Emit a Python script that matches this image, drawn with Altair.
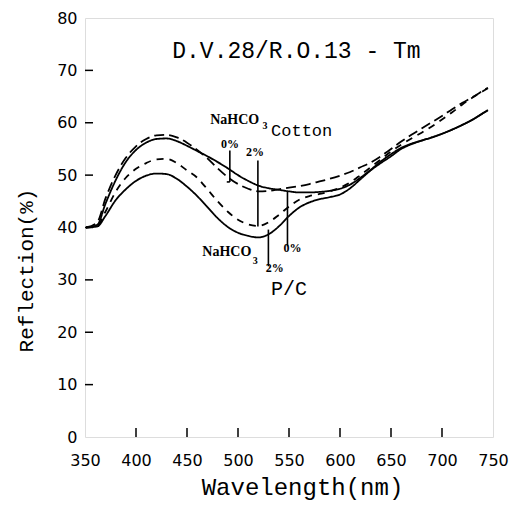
import altair as alt
import pandas as pd

# ---- data ----
wavelength = [351, 362, 370, 380, 390, 400, 410, 420, 430, 440, 450, 460, 470, 480, 490,
              500, 510, 520, 530, 540, 550, 560, 570, 580, 590, 600, 610, 620, 630, 640,
              650, 660, 670, 680, 690, 700, 710, 720, 730, 740, 745]

pc_0 = [40, 40.5, 44.5, 49, 52.5, 54.8, 56.2, 56.9, 57.0, 56.5, 55.6, 54.6, 53.6, 52.5, 51.3,
        50.0, 48.9, 48.0, 47.5, 47.2, 46.9, 46.7, 46.7, 46.8, 47.0, 47.4, 48.2, 49.5, 51.0, 52.6,
        54.0, 55.2, 56.0, 56.6, 57.2, 57.9, 58.7, 59.6, 60.6, 61.8, 62.4]
cotton_0 = [40, 41, 45.5, 50, 53.3, 55.5, 56.9, 57.6, 57.7, 57.2, 56.2, 54.8, 53.2, 51.3, 49.6,
            48.3, 47.4, 46.9, 47.0, 47.3, 47.6, 47.9, 48.3, 48.8, 49.3, 49.9, 50.6, 51.5, 52.4, 53.6,
            55.0, 56.4, 57.7, 58.9, 60.1, 61.3, 62.6, 63.8, 64.9, 66.1, 66.7]
cotton_2 = [40, 40.3, 43, 46.8, 49.5, 51.2, 52.3, 53.0, 53.1, 52.3, 50.9, 49.5, 47.3, 45.0, 43.0,
            41.5, 40.6, 40.3, 41.0, 42.4, 44.0, 45.3, 46.0, 46.4, 46.9, 47.6, 48.6, 50.0, 51.5, 53.0,
            54.5, 55.8, 57.0, 58.1, 59.3, 60.6, 62.0, 63.5, 64.8, 66.0, 66.6]
pc_2 = [40, 40.2, 42.2, 45.2, 47.3, 48.9, 49.9, 50.3, 50.2, 49.3, 47.8, 46.0, 43.9, 41.8, 40.1,
        39.0, 38.4, 38.1, 38.7, 40.2, 42.2, 43.8, 44.8, 45.4, 45.8, 46.3, 47.5, 49.2, 50.9, 52.3,
        53.6, 55.0, 55.9, 56.6, 57.2, 57.9, 58.7, 59.6, 60.6, 61.8, 62.4]

series_names = ["P/C 0%", "Cotton 0%", "Cotton 2%", "P/C 2%"]
series_values = [pc_0, cotton_0, cotton_2, pc_2]
series_dash = [[1, 0], [10, 5], [7, 6], [1, 0]]

x_labels = [350, 400, 450, 500, 550, 600, 650, 700, 750]
y_labels = [0, 10, 20, 30, 40, 50, 60, 70, 80]
x_ticks = [400, 450, 500, 550, 600, 650, 700]
y_ticks = [10, 20, 30, 40, 50, 60, 70]

# pointer lines of the annotations
marker_wl = [492, 519.5, 529.8, 548.5]
marker_top = [54.7, 52.8, 39.6, 46.8]
marker_bottom = [48.7, 40.2, 32.6, 36.4]

rows = []
for name, vals in zip(series_names, series_values):
    for w, v in zip(wavelength, vals):
        rows.append({"wl": w, "refl": v, "series": name})
df = pd.DataFrame(rows)

W, H = 408, 419
xs = alt.Scale(domain=[350, 750], nice=False, zero=False)
ys = alt.Scale(domain=[0, 80], nice=False, zero=False)

mono = "Liberation Mono"
sans = "DejaVu Sans"
serif = "Liberation Serif"

lines = alt.Chart(df).mark_line(color="black", strokeWidth=1.8, interpolate="monotone").encode(
    x=alt.X("wl:Q", scale=xs, axis=alt.Axis(
        values=x_labels, title="Wavelength(nm)", domain=False, ticks=False, grid=False,
        labelFont=sans, labelFontSize=16, labelPadding=15, labelColor="black", labelFlush=False,
        titleFont=mono, titleFontSize=24, titleFontWeight="normal", titlePadding=7, titleColor="black",
        titleX=217)),
    y=alt.Y("refl:Q", scale=ys, axis=alt.Axis(
        values=y_labels, title="Reflection(%)", domain=False, ticks=False, grid=False,
        labelFont=sans, labelFontSize=16, labelPadding=8, labelColor="black", labelFlush=False,
        titleFont=mono, titleFontSize=21, titleFontWeight="normal", titlePadding=20, titleColor="black",
        titleY=252)),
    strokeDash=alt.StrokeDash("series:N", scale=alt.Scale(domain=series_names, range=series_dash), legend=None),
    detail="series:N",
)

xt = alt.Chart(pd.DataFrame({"t": x_ticks, "z": [0] * len(x_ticks)})).mark_tick(
    orient="vertical", size=18, thickness=1.5, color="black", clip=True, opacity=1
).encode(x=alt.X("t:Q", scale=xs), y=alt.Y("z:Q", scale=ys))

yt = alt.Chart(pd.DataFrame({"t": y_ticks, "z": [350] * len(y_ticks)})).mark_tick(
    orient="horizontal", size=16, thickness=1.5, color="black", clip=True, opacity=1
).encode(y=alt.Y("t:Q", scale=ys), x=alt.X("z:Q", scale=xs))

mk = alt.Chart(pd.DataFrame({"x": marker_wl, "y": marker_top, "y2": marker_bottom})).mark_rule(
    color="black", strokeWidth=1.6
).encode(x=alt.X("x:Q", scale=xs), y=alt.Y("y:Q", scale=ys), y2="y2:Q")

hook = alt.Chart(pd.DataFrame({"x": [489.0], "x2": [492.0], "y": [48.7]})).mark_rule(
    color="black", strokeWidth=1.6
).encode(x=alt.X("x:Q", scale=xs), x2="x2:Q", y=alt.Y("y:Q", scale=ys))


def texts(labels, xv, yv, font, size, weight="normal", align="left", style="normal"):
    d = pd.DataFrame({"label": labels, "x": xv, "y": yv})
    return alt.Chart(d).mark_text(
        font=font, fontSize=size, fontWeight=weight, fontStyle=style, align=align,
        baseline="middle", color="black"
    ).encode(x=alt.X("x:Q", scale=xs), y=alt.Y("y:Q", scale=ys), text="label:N")


t_title = texts(["D.V.28/R.O.13 - Tm"], [557.3], [73.7], mono, 23, align="center")
t_naco = texts(["NaHCO", "NaHCO"], [472.7, 465.0], [60.5, 35.3], serif, 14, weight="bold")
t_sub = texts(["3", "3"], [524.0, 514.5], [59.4, 33.6], serif, 10, weight="bold")
t_pct = texts(["0%", "2%", "2%", "0%"], [483.3, 507.9, 527.2, 544.7], [56.0, 54.4, 32.2, 36.0],
              serif, 12, weight="bold")
t_cotton = texts(["Cotton"], [532.4], [58.5], mono, 17)
t_pc = texts(["P/C"], [550.0], [28.2], mono, 20, align="center")

chart = alt.layer(lines, xt, yt, mk, hook, t_title, t_naco, t_sub, t_pct, t_cotton, t_pc).properties(
    width=W, height=H,
    padding={"left": 77, "top": 10, "right": 17, "bottom": 69},
    autosize=alt.AutoSizeParams(type="none"),
).configure_view(stroke="black", strokeWidth=2).configure(background="white")

chart.save("out.html", embed_options={"renderer": "svg", "actions": False})
